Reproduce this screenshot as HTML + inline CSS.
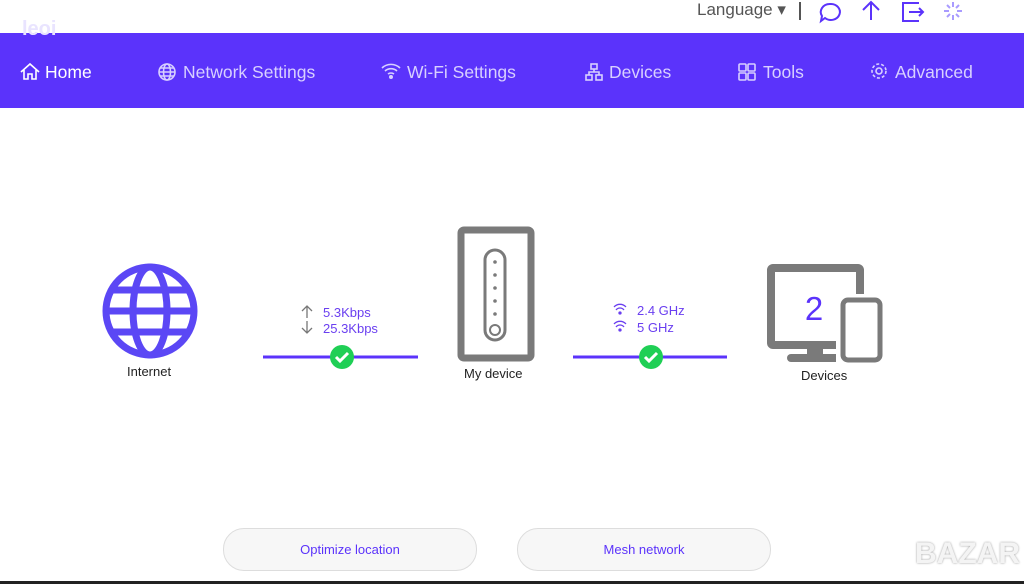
<!DOCTYPE html>
<html><head><meta charset="utf-8"><style>
body{margin:0;width:1024px;height:584px;position:relative;overflow:hidden;background:#fff;font-family:"Liberation Sans",sans-serif}
.a{position:absolute}
.nav{left:0;top:33px;width:1024px;height:75px;background:#5b33fb}
.ni{top:62px;color:#d8d0ff;font-size:17.5px;white-space:nowrap}
.btn{top:528px;width:252px;height:41px;border:1px solid #ddd;border-radius:21px;background:#f7f7f7;color:#5b33fb;font-size:13px;text-align:center;line-height:41px}
.lbl{font-size:13px;color:#222}
.pt{font-size:13px;color:#6a3ff0}
</style></head><body>
<div class="a" style="left:697px;top:0;font-size:17px;color:#555">Language ▾</div>
<div class="a" style="left:799px;top:2px;width:2px;height:18px;background:#555"></div>
<svg class="a" style="left:815px;top:0" width="160" height="24" fill="none" stroke="#5b33fb" stroke-width="2">
<path d="M15 4a9 8 0 1 1-5 14l-4 3 1-5a9 8 0 0 1 8-12z"/>
<path d="M56 20V2M48 10l8-8 8 8"/>
<path d="M104 3H88v18h16M94 12h14M104 8l4 4-4 4"/>
<path d="M138 2v5M138 15v5M129 11h5M142 11h5M132 5l3 3M141 14l3 3M144 5l-3 3M132 17l3-3" stroke="#a99bff"/>
</svg>
<div class="nav a"></div>
<div class="a" style="left:22px;top:18px;color:#e9e4ff;font-size:20px;font-weight:bold">leoi</div>
<svg class="a" style="left:0;top:55px" width="1024" height="36" fill="none" stroke="#d8d0ff" stroke-width="1.6">
<path d="M21 17l9-8 9 8M24 15v9h4v-5h4v5h4v-9" stroke="#fff"/>
<circle cx="167" cy="17" r="8"/><ellipse cx="167" cy="17" rx="3.5" ry="8"/><path d="M159 17h16M160 13h14M160 21h14"/>
<path d="M382 13a13 13 0 0 1 18 0M385 16a9 9 0 0 1 12 0M388 19a5 5 0 0 1 6 0"/><circle cx="391" cy="22" r="1.2" fill="#d8d0ff"/>
<rect x="591" y="9" width="6" height="5"/><rect x="586" y="20" width="6" height="5"/><rect x="596" y="20" width="6" height="5"/><path d="M594 14v3M589 20v-3h10v3"/>
<rect x="739" y="9" width="7" height="7" rx="1"/><rect x="748" y="9" width="7" height="7" rx="1"/><rect x="739" y="18" width="7" height="7" rx="1"/><rect x="748" y="18" width="7" height="7" rx="1"/>
<circle cx="879" cy="16" r="3"/><circle cx="879" cy="16" r="7" stroke-dasharray="3 2"/>
</svg>
<div class="a ni" style="left:45px;color:#fff">Home</div>
<div class="a ni" style="left:183px">Network Settings</div>
<div class="a ni" style="left:407px">Wi-Fi Settings</div>
<div class="a ni" style="left:609px">Devices</div>
<div class="a ni" style="left:763px">Tools</div>
<div class="a ni" style="left:895px">Advanced</div>
<svg class="a" style="left:0;top:200px" width="1024" height="200">
<g fill="none" stroke="#5b47f5" stroke-width="7">
<circle cx="150" cy="111" r="44"/>
<ellipse cx="150" cy="111" rx="17" ry="44"/>
<line x1="106" y1="111" x2="194" y2="111"/>
<line x1="112" y1="90" x2="188" y2="90"/><line x1="112" y1="132" x2="188" y2="132"/>
</g>
<line x1="263" y1="157" x2="418" y2="157" stroke="#5b33fb" stroke-width="3"/>
<circle cx="342" cy="157" r="12" fill="#1fcf55"/><path d="M336 157l4 4 8-8" stroke="#fff" stroke-width="3" fill="none"/>
<line x1="573" y1="157" x2="727" y2="157" stroke="#5b33fb" stroke-width="3"/>
<circle cx="651" cy="157" r="12" fill="#1fcf55"/><path d="M645 157l4 4 8-8" stroke="#fff" stroke-width="3" fill="none"/>
<path d="M307 118V106M302 111l5-5 5 5M307 121v12M302 128l5 5 5-5" stroke="#777" stroke-width="1.3" fill="none"/>
<g fill="none" stroke="#6a3ff0" stroke-width="1.3">
<path d="M614 107a8 8 0 0 1 12 0M616 110a5 5 0 0 1 8 0"/><circle cx="620" cy="113" r="1" fill="#6a3ff0"/>
<path d="M614 124a8 8 0 0 1 12 0M616 127a5 5 0 0 1 8 0"/><circle cx="620" cy="130" r="1" fill="#6a3ff0"/>
</g>
<rect x="461" y="30" width="70" height="128" rx="3" fill="none" stroke="#7a7a7a" stroke-width="7"/>
<rect x="485" y="50" width="20" height="90" rx="10" fill="none" stroke="#7a7a7a" stroke-width="3"/>
<g fill="#7a7a7a"><circle cx="495" cy="62" r="1.8"/><circle cx="495" cy="75" r="1.8"/><circle cx="495" cy="88" r="1.8"/><circle cx="495" cy="101" r="1.8"/><circle cx="495" cy="114" r="1.8"/></g>
<circle cx="495" cy="130" r="5" fill="none" stroke="#7a7a7a" stroke-width="2"/>
<rect x="771" y="68" width="89" height="77" rx="2" fill="none" stroke="#7a7a7a" stroke-width="8"/>
<rect x="807" y="145" width="16" height="12" fill="#7a7a7a"/>
<rect x="787" y="154" width="56" height="8" rx="4" fill="#7a7a7a"/>
<rect x="836" y="94" width="52" height="74" rx="6" fill="#fff"/>
<rect x="843" y="100" width="37" height="60" rx="5" fill="#fff" stroke="#7a7a7a" stroke-width="5"/>
<text x="814" y="120" font-size="33" fill="#5b33fb" text-anchor="middle" font-family="Liberation Sans">2</text>
</svg>
<div class="a pt" style="left:323px;top:305px;line-height:16px">5.3Kbps<br>25.3Kbps</div>
<div class="a pt" style="left:637px;top:302px;line-height:17px">2.4 GHz<br>5 GHz</div>
<div class="a lbl" style="left:127px;top:364px">Internet</div>
<div class="a lbl" style="left:464px;top:366px">My device</div>
<div class="a lbl" style="left:801px;top:368px">Devices</div>
<div class="a btn" style="left:223px">Optimize location</div>
<div class="a btn" style="left:517px">Mesh network</div>
<div class="a" style="left:915px;top:537px;font-size:30px;font-weight:bold;color:#f4f4f4;text-shadow:0 0 2px #999">BAZAR</div>
<div class="a" style="left:0;top:581px;width:1024px;height:3px;background:#222"></div>
</body></html>
